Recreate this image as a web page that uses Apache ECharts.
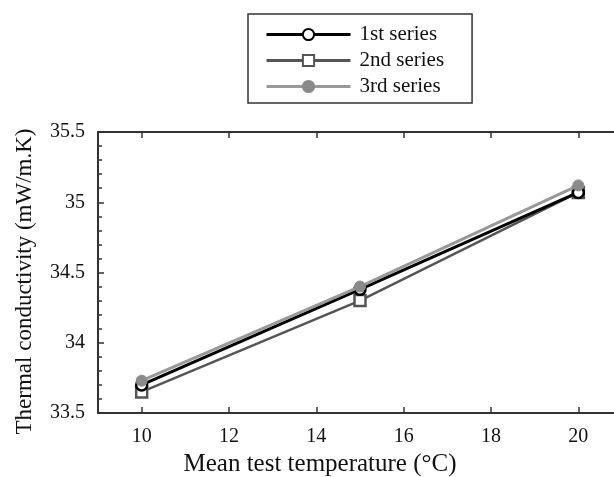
<!DOCTYPE html>
<html>
<head>
<meta charset="utf-8">
<script src="https://cdn.jsdelivr.net/npm/echarts@6/dist/echarts.min.js"></script>
<style>html,body{margin:0;padding:0;background:#fff}#c{width:614px;height:477px}</style>
</head>
<body>
<div id="c"></div>
<script>
const temperatures = [10, 15, 20];
const series1 = [33.70, 34.38, 35.07];
const series2 = [33.65, 34.30, 35.07];
const series3 = [33.73, 34.40, 35.12];
const seriesNames = ['1st series', '2nd series', '3rd series'];
const xTicks = [10, 12, 14, 16, 18, 20];
const yTicks = [33.5, 34, 34.5, 35, 35.5];

const FONT = '"Liberation Serif", "DejaVu Serif", serif';
const axisCol = '#333';
const chart = echarts.init(document.getElementById('c'), null, {renderer: 'canvas'});
const pair = (d) => temperatures.map((t, i) => [t, d[i]]);

chart.setOption({
  animation: false,
  backgroundColor: '#fff',
  textStyle: {fontFamily: FONT},
  grid: {left: 98, top: 132, width: 524, bottom: 64, containLabel: false, outerBoundsMode: 'none'},
  legend: {
    orient: 'vertical', left: 248, top: 14,
    itemWidth: 84, itemHeight: 14, itemGap: 5,
    padding: [10, 28, 6, 17],
    borderColor: '#333', borderWidth: 1.5,
    textStyle: {fontFamily: FONT, fontSize: 21, lineHeight: 21, color: '#111', padding: [0, 0, 0, 4]},
    data: [
      {name: seriesNames[0], lineStyle: {width: 3}},
      {name: seriesNames[1], lineStyle: {width: 3}},
      {name: seriesNames[2], lineStyle: {width: 3}}
    ]
  },
  xAxis: [{
    type: 'value', min: 9, max: 21, position: 'bottom',
    name: 'Mean test temperature (°C)', nameLocation: 'middle', nameGap: 39,
    nameTextStyle: {fontFamily: FONT, fontSize: 25, color: '#111', padding: [0, 80, 0, 0]},
    axisLine: {show: true, lineStyle: {color: axisCol, width: 2}},
    axisTick: {show: true, inside: true, length: 6, lineStyle: {color: axisCol, width: 1.5}, customValues: xTicks},
    axisLabel: {fontFamily: FONT, fontSize: 20, color: '#111', margin: 14, customValues: xTicks},
    splitLine: {show: false}
  }, {
    type: 'value', min: 9, max: 21, position: 'top',
    axisLine: {show: true, onZero: false, lineStyle: {color: axisCol, width: 2}},
    axisTick: {show: true, inside: true, length: 6, lineStyle: {color: axisCol, width: 1.5}, customValues: xTicks},
    axisLabel: {show: false},
    splitLine: {show: false}
  }],
  yAxis: [{
    type: 'value', min: 33.5, max: 35.5, interval: 0.5, position: 'left',
    name: 'Thermal conductivity (mW/m.K)', nameLocation: 'middle', nameGap: 62,
    nameTextStyle: {fontFamily: FONT, fontSize: 23, color: '#111', padding: [0, 18, 0, 0]},
    axisLine: {show: true, onZero: false, lineStyle: {color: axisCol, width: 2}},
    axisTick: {show: true, inside: true, length: 6, lineStyle: {color: axisCol, width: 1.5}},
    minorTick: {show: true, splitNumber: 5, length: 4, lineStyle: {color: axisCol, width: 1.5}},
    axisLabel: {fontFamily: FONT, fontSize: 20, color: '#111', margin: 13,
      customValues: yTicks, formatter: (v) => String(+v.toFixed(1))},
    splitLine: {show: false}
  }, {
    type: 'value', min: 33.5, max: 35.5, interval: 0.5, position: 'right',
    axisLine: {show: true, onZero: false, lineStyle: {color: axisCol, width: 2}},
    axisTick: {show: true, inside: true, length: 6, lineStyle: {color: axisCol, width: 1.5}},
    axisLabel: {show: false},
    splitLine: {show: false}
  }],
  series: [{
    name: seriesNames[0], type: 'line', data: pair(series1),
    symbol: 'circle', symbolSize: 11, showSymbol: true,
    lineStyle: {color: '#000', width: 3},
    itemStyle: {color: '#fff', borderColor: '#000', borderWidth: 2.5},
    z: 3
  }, {
    name: seriesNames[1], type: 'line', data: pair(series2),
    symbol: 'rect', symbolSize: 11,
    lineStyle: {color: '#555', width: 2.5},
    itemStyle: {color: '#fff', borderColor: '#555', borderWidth: 2.5},
    z: 2
  }, {
    name: seriesNames[2], type: 'line', data: pair(series3),
    symbol: 'circle', symbolSize: 11,
    lineStyle: {color: '#999', width: 3},
    itemStyle: {color: '#8a8a8a', borderColor: '#8a8a8a', borderWidth: 1},
    z: 4
  }]
});
</script>
</body>
</html>
